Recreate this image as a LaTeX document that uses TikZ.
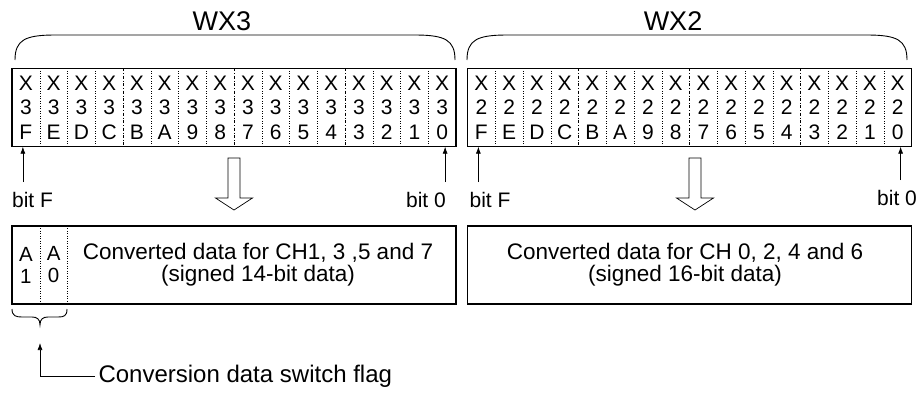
\documentclass[tikz,border=0pt]{standalone}
\usepackage{fontspec}
\setmainfont{Liberation Sans}
\usetikzlibrary{arrows.meta,positioning}
\tikzset{
 regbox/.style = {draw, line width=1.1pt, minimum width=444pt,
           minimum height=78pt, inner sep=0pt},
 bitcell/.style = {minimum width=27.75pt, minimum height=78pt, inner sep=0pt,
           align=center, font=\fontsize{21}{24.5}\selectfont},
 flagcell/.style = {bitcell, font=\fontsize{20.5}{22}\selectfont},
 cellsep/.style = {dotted, line width=0.5pt},
 groupsep/.style = {dash dot, line width=0.5pt},
 bitlbl/.style = {font=\fontsize{21}{24}\selectfont, inner xsep=0pt, inner ysep=10pt},
 bitarrow/.style = {-{Latex[length=7pt,width=5pt]}, line width=0.7pt},
 hollow/.style = {draw, line width=0.7pt, fill=white},
 wordbrace/.style = {line width=0.9pt},
 title/.style = {font=\fontsize{27}{30}\selectfont},
 datatext/.style = {align=center, font=\fontsize{22.5}{22}\selectfont}
}

\begin{document}
\begin{tikzpicture}[x=1pt,y=-1pt]
  \useasboundingbox (0,0) rectangle (921,392);

  % WX3
  \node[title] (wx3) at (222,21) {WX3};
  \draw[wordbrace] (15,60) .. controls (15,40) and (25,35) .. (55,35)
    -- (415,35) .. controls (445,35) and (455,40) .. (455,60);
  \node[regbox] (regL) at (234,107.5) {};
  \foreach \d [count=\i from 0] in {F,E,D,C,B,A,9,8,7,6,5,4,3,2,1,0}
    \node[bitcell] (l\i) at ({12+27.75*(\i+0.5)},107.5) {X\\3\\\d};
  \foreach \i in {0,1,2,4,5,6,8,9,10,12,13,14}
    \draw[cellsep] (l\i.north east) -- (l\i.south east);
  \foreach \i in {3,7,11}
    \draw[groupsep] (l\i.north east) -- (l\i.south east);

  % WX2
  \node[title] (wx2) at (673,21) {WX2};
  \draw[wordbrace] (467,60) .. controls (467,40) and (477,35) .. (507,35)
    -- (867,35) .. controls (897,35) and (907,40) .. (907,60);
  \node[regbox] (regR) at (689.5,107.5) {};
  \foreach \d [count=\i from 0] in {F,E,D,C,B,A,9,8,7,6,5,4,3,2,1,0}
    \node[bitcell] (r\i) at ({467.5+27.75*(\i+0.5)},107.5) {X\\2\\\d};
  \foreach \i in {0,1,2,4,5,6,8,9,10,12,13,14}
    \draw[cellsep] (r\i.north east) -- (r\i.south east);
  \foreach \i in {3,7,11}
    \draw[groupsep] (r\i.north east) -- (r\i.south east);

  % bit labels
  \node[bitlbl] (bfL) at (32.5,200) {bit F};
  \node[bitlbl] (b0L) at (426,200) {bit 0};
  \node[bitlbl] (bfR) at (490,200) {bit F};
  \node[bitlbl] (b0R) at (897,198) {bit 0};
  \draw[bitarrow] ([xshift=-3pt]l0.south |- bfL.north) -- ([xshift=-3pt]l0.south);
  \draw[bitarrow] ([xshift=3pt]l15.south |- b0L.north) -- ([xshift=3pt]l15.south);
  \draw[bitarrow] ([xshift=-3pt]r0.south |- bfR.north) -- ([xshift=-3pt]r0.south);
  \draw[bitarrow] ([xshift=3pt]r15.south |- b0R.north) -- ([xshift=3pt]r15.south);

  % hollow arrows
  \foreach \cx in {234,695}
    \draw[hollow] ({\cx-6},158) -- ({\cx-6},198) -- ({\cx-18.5},198) -- (\cx,210)
      -- ({\cx+18.5},198) -- ({\cx+6},198) -- ({\cx+6},158) -- cycle;

  % converted data
  \node[regbox] (dataL) at (234,265) {};
  \node[flagcell] (a1) at (25.9,265) {A\\1};
  \node[flagcell] (a0) at (53.6,265) {A\\0};
  \draw[cellsep] (a1.north east) -- (a1.south east);
  \draw[cellsep] (a0.north east) -- (a0.south east);
  \node[datatext] (txtL) at (258,265)
    {Converted data for CH1, 3 ,5 and 7\\(signed 14-bit data)};
  \node[regbox] (dataR) at (689.5,265) {};
  \node[datatext] (txtR) at (685,265)
    {Converted data for CH 0, 2, 4 and 6\\(signed 16-bit data)};

  % switch flag
  \draw[wordbrace] (12,309) .. controls (12,316) and (16,317) .. (22,317)
    -- (32,317) .. controls (37,317) and (40,319) .. (40,325)
    .. controls (40,319) and (43,317) .. (48,317) -- (58,317)
    .. controls (64,317) and (67,316) .. (67,309);
  \node[datatext, font=\fontsize{24}{26}\selectfont, anchor=west] (flag)
    at (95,376) {Conversion data switch flag};
  \coordinate (flagtip) at (40,343);
  \draw[bitarrow] (flag.west) -| (flagtip);
\end{tikzpicture}
\end{document}
